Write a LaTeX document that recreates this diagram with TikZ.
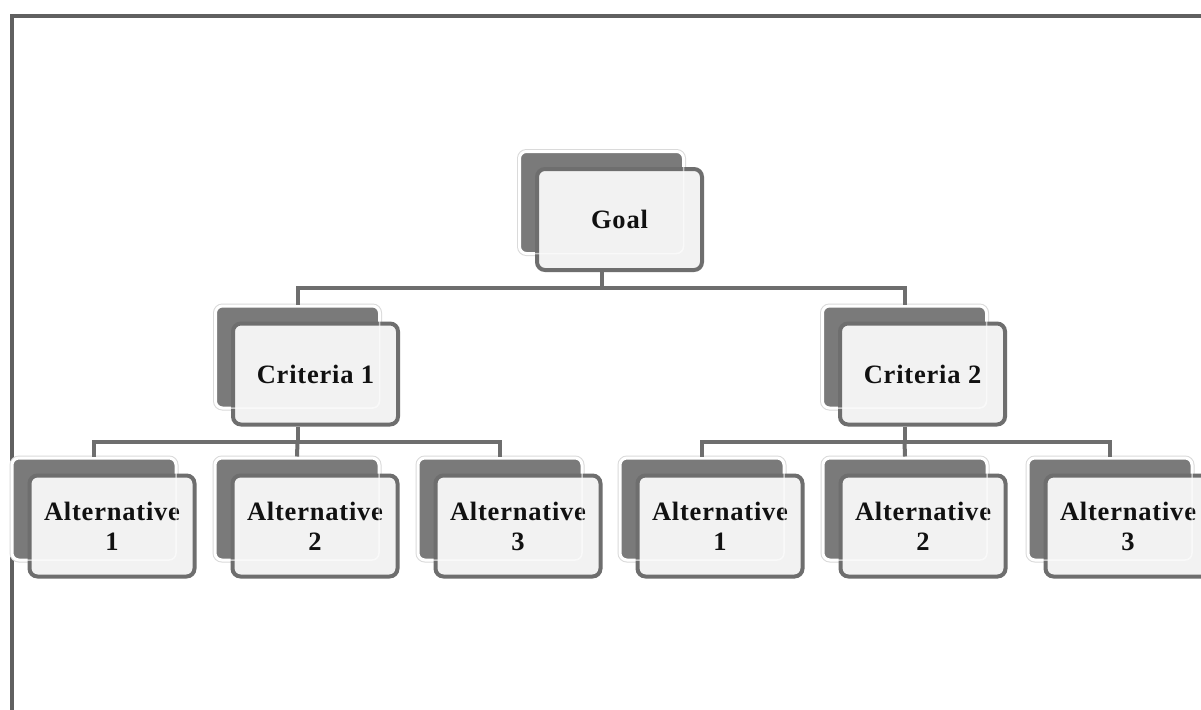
\documentclass[tikz,border=0pt]{standalone}
\usepackage{fontspec}
\setmainfont{Liberation Serif}
\usetikzlibrary{calc}
\definecolor{backgray}{HTML}{7A7A7A}
\definecolor{edgegray}{HTML}{DADADA}
\definecolor{frontfill}{HTML}{F2F2F2}
\definecolor{boxline}{HTML}{6E6E6E}
\definecolor{framegray}{HTML}{606060}
\definecolor{txt}{HTML}{111111}
\newfontfamily\boxfont[LetterSpace=3]{Liberation Serif Bold}
\tikzset{
  backbox/.style={rectangle, rounded corners=7pt, fill=backgray, draw=white,
    line width=3pt, minimum width=164pt, minimum height=102pt, inner sep=0pt,
    preaction={draw=edgegray, line width=5pt}},
  ghost/.style={rectangle, rounded corners=7pt, draw=white, opacity=0.6,
    line width=1.5pt, minimum width=164pt, minimum height=102pt, inner sep=0pt},
  frontbox/.style={rectangle, rounded corners=8pt, fill=frontfill, draw=boxline,
    line width=4pt, minimum width=165pt, minimum height=101pt, inner sep=0pt,
    align=center, text=txt, font=\fontsize{26.5}{30}\boxfont},
  conn/.style={draw=boxline, line width=4pt},
  framestyle/.style={draw=framegray, line width=4pt}
}
\newcommand\ahpnode[4]{%
  \node[backbox] (#1b) at (#2,#3) {};
  \node[frontbox] (#1) at ($(#1b)+(18,-17)$) {#4};
  \node[ghost] (#1g) at (#1b) {};
}
\begin{document}
\begin{tikzpicture}[x=1pt,y=1pt]
\useasboundingbox (0,0) rectangle (1201,-709);
\fill[white] (0,0) rectangle (1201,-709);
\coordinate (frameBL) at (12,-740);
\coordinate (frameTL) at (12,-16);
\coordinate (frameTR) at (1240,-16);
\draw[framestyle] (frameBL) -- (frameTL) -- (frameTR);

\ahpnode{goal}{601.5}{-202.5}{Goal}
\ahpnode{ca}{297.5}{-357}{Criteria 1}
\ahpnode{cb}{904.5}{-357}{Criteria 2}
\ahpnode{aa}{94}{-509}{Alternative\\1}
\ahpnode{ab}{297}{-509}{Alternative\\2}
\ahpnode{ac}{500}{-509}{Alternative\\3}
\ahpnode{ad}{702}{-509}{Alternative\\1}
\ahpnode{ae}{905}{-509}{Alternative\\2}
\ahpnode{af}{1110}{-509}{Alternative\\3}

\coordinate (busG) at (601.5,-288);
\coordinate (busA) at (297.5,-442);
\coordinate (busB) at (904.5,-442);

\draw[conn] (goalb.south |- goal.south) -- (busG);
\draw[conn] (cab.north) |- (busG) -| (cbb.north);
\draw[conn] (cab.south |- ca.south) -- (busA);
\draw[conn] (aab.north) |- (busA) -| (acb.north);
\draw[conn] (abb.north) -- (busA);
\draw[conn] (cbb.south |- cb.south) -- (busB);
\draw[conn] (adb.north) |- (busB) -| (afb.north);
\draw[conn] (aeb.north) -- (busB);
\end{tikzpicture}
\end{document}
